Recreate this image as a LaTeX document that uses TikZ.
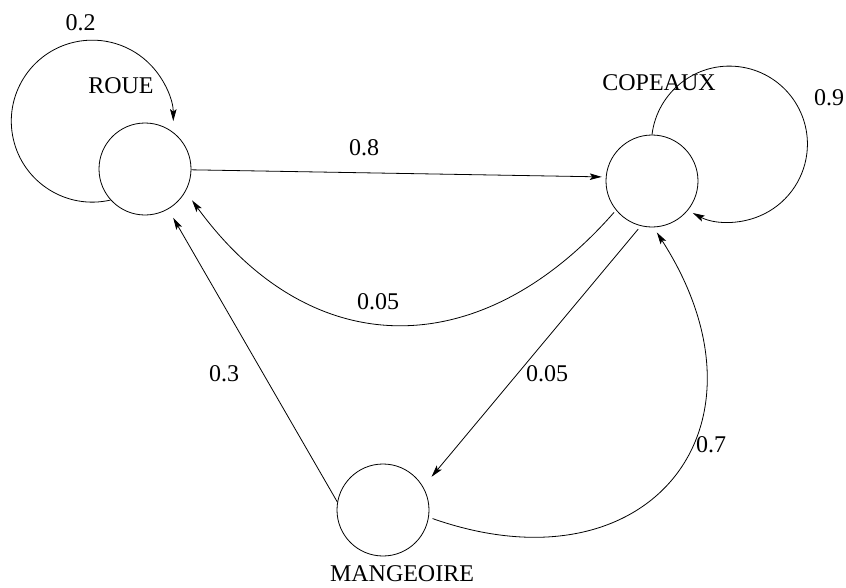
\documentclass[tikz,border=0pt]{standalone}
\usepackage{fontspec}
\setmainfont{Liberation Serif}
\usetikzlibrary{arrows.meta}
\begin{document}
\begin{tikzpicture}[x=1pt,y=-1pt,line width=0.8pt,
  state/.style={circle,draw,minimum size=92pt,inner sep=0pt},
  lbl/.style={inner sep=0pt,font=\fontsize{24}{28}\selectfont},
  tr/.style={-{Stealth[length=12pt,width=6.5pt,inset=2.5pt]}}]
\useasboundingbox (0,0) rectangle (846,587);
% states
\node[state] (R) at (145,169) {};
\node[state] (C) at (652,181) {};
\node[state] (M) at (383,510) {};
% state names
\node[lbl] (tR) at (121,86) {ROUE};
\node[lbl] (tC) at (659,83) {COPEAUX};
\node[lbl] (tM) at (402,574) {MANGEOIRE};
% self loops
\draw[tr] (R.-138) arc[start angle=-77,end angle=-360,radius=81pt];
\draw[tr] (C.north) arc[start angle=173,end angle=-118,radius=78pt];
% transitions
\draw[tr,shorten >=4pt] (R.-1) -- (C.175);
\draw[tr,shorten <=3pt,shorten >=11pt] (C.219) .. controls +(-134,153) and +(127,174) .. (R.-29);
\draw[tr,shorten <=4pt,shorten >=13pt] (C.256) -- (M.30);
\draw[tr,shorten >=10pt] (M.170) -- (R.-60);
\draw[tr,shorten <=4pt,shorten >=6pt] (M.-9) .. controls +(219,77) and +(129,201) .. (C.-88);
% probabilities
\node[lbl] (p02) at (80.5,22.5) {0.2};
\node[lbl] (p09) at (829,97.5) {0.9};
\node[lbl] (p08) at (364,147.5) {0.8};
\node[lbl] (p005a) at (378,302) {0.05};
\node[lbl] (p005b) at (547,374) {0.05};
\node[lbl] (p03) at (224,374) {0.3};
\node[lbl] (p07) at (711,445) {0.7};
\end{tikzpicture}
\end{document}
